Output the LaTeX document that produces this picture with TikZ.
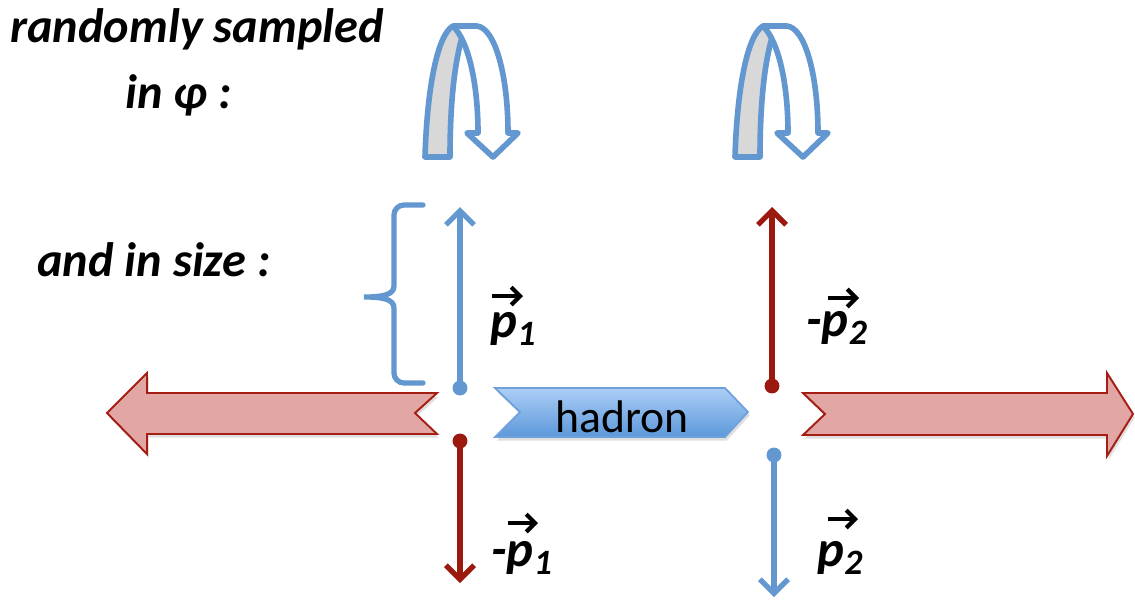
\documentclass[tikz,border=0pt]{standalone}
\usepackage{fontspec}
\setmainfont{Carlito}
\usetikzlibrary{arrows.meta,shadows}
\definecolor{lblue}{RGB}{99,151,208}
\definecolor{dred}{RGB}{155,25,15}
\definecolor{pinkf}{RGB}{226,166,164}
\definecolor{pinkd}{RGB}{165,30,20}
\definecolor{ribgray}{RGB}{216,216,216}
\definecolor{hadtop}{RGB}{172,206,246}
\definecolor{hadbot}{RGB}{92,152,218}
\definecolor{hadline}{RGB}{110,160,220}
\begin{document}
\begin{tikzpicture}[x=0.02cm,y=-0.02cm,
  bigtext/.style={font=\fontsize{27.5}{31}\selectfont\bfseries\itshape, inner sep=0pt},
  lbl/.style={font=\fontsize{29}{32}\selectfont\bfseries\itshape, inner sep=0pt, anchor=base west},
  vec/.style={line width=2.4pt, -{Straight Barb[length=5pt,width=10pt]}},
  dot/.style={circle, inner sep=0pt, minimum size=8.5pt},
  thinarrow/.style={line width=3pt, -{Straight Barb[length=8pt,width=16pt]}},
  ribbon/.style={draw=lblue, line width=3.2pt, line join=round},
  bracketline/.style={draw=lblue, line width=3pt, line cap=round},
  bigarrow/.style={draw=pinkd, fill=pinkf, line width=1.1pt, line join=miter,
    drop shadow={shadow xshift=1pt, shadow yshift=-2pt, opacity=0.25}},
]
\useasboundingbox (0,0) rectangle (1135,600);

% texts
\node[bigtext, anchor=base] (t1) at (197,42) {randomly sampled};
\node[bigtext, anchor=base west] (t2) at (125,108) {in φ :};
\node[bigtext, anchor=base west] (t3) at (37,276) {and in size :};

% twisted turn arrows
\foreach \ox in {425,735}{
\begin{scope}[shift={(\ox,0)}]
  \path[ribbon, fill=ribgray] (0,157) .. controls (2,90) and (12,35) .. (28,26)
     .. controls (33,26) and (37,29) .. (38,34)
     .. controls (30,60) and (25,100) .. (25,157) -- cycle;
  \path[ribbon, fill=white] (28,26) -- (52,26) .. controls (70,28) and (83,75) .. (83,133)
     -- (93,133) -- (68,157) -- (42,133) -- (53,133)
     .. controls (53,85) and (44,42) .. (28,26) -- cycle;
\end{scope}}

% bracket
\draw[bracketline] (423,205) -- (404,205) to[out=180,in=90] (394,215) -- (394,286)
   .. controls (394,295) and (382,297) .. (364,297)
   .. controls (382,297) and (394,299) .. (394,308) -- (394,373)
   to[out=-90,in=180] (404,383) -- (423,383);

% big red arrows
\path[bigarrow] (107,413) -- (147,373) -- (147,393) -- (437,393) -- (415,413)
   -- (437,434) -- (147,434) -- (147,454) -- cycle;
\path[bigarrow] (803,393) -- (1107,393) -- (1107,373) -- (1133,414) -- (1107,456)
   -- (1107,435) -- (803,435) -- (825,414) -- cycle;

% hadron
\path[draw=hadline, line width=1pt, top color=hadtop, bottom color=hadbot,
  drop shadow={shadow xshift=1pt, shadow yshift=-2pt, opacity=0.25}]
  (495,388) -- (725,388) -- (748,412) -- (725,437) -- (495,437) -- (520,412) -- cycle;
\node[font=\fontsize{26}{30}\selectfont, anchor=base, inner sep=0pt] (had) at (622,432) {hadron};

% momentum arrows
\node[dot, fill=lblue] (d1) at (460,388) {};
\coordinate (e1) at (460,207);
\draw[thinarrow, lblue] (d1.center) -- (e1);
\node[dot, fill=dred] (d2) at (460,441) {};
\coordinate (e2) at (460,583);
\draw[thinarrow, dred] (d2.center) -- (e2);
\node[dot, fill=dred] (d3) at (772,386) {};
\coordinate (e3) at (772,207);
\draw[thinarrow, dred] (d3.center) -- (e3);
\node[dot, fill=lblue] (d4) at (774,455) {};
\coordinate (e4) at (774,597);
\draw[thinarrow, lblue] (d4.center) -- (e4);

% labels
\node[lbl] (l1) at (490,337) {p\textsubscript{1}};
\coordinate (v1) at (492,296);
\draw[vec] (v1) -- ++(31,0);
\node[lbl] (l2) at (806,336) {-p\textsubscript{2}};
\coordinate (v2) at (828,298);
\draw[vec] (v2) -- ++(31,0);
\node[lbl] (l3) at (491,566) {-p\textsubscript{1}};
\coordinate (v3) at (508,523);
\draw[vec] (v3) -- ++(30,0);
\node[lbl] (l4) at (817,566) {p\textsubscript{2}};
\coordinate (v4) at (828,519);
\draw[vec] (v4) -- ++(30,0);
\end{tikzpicture}
\end{document}
